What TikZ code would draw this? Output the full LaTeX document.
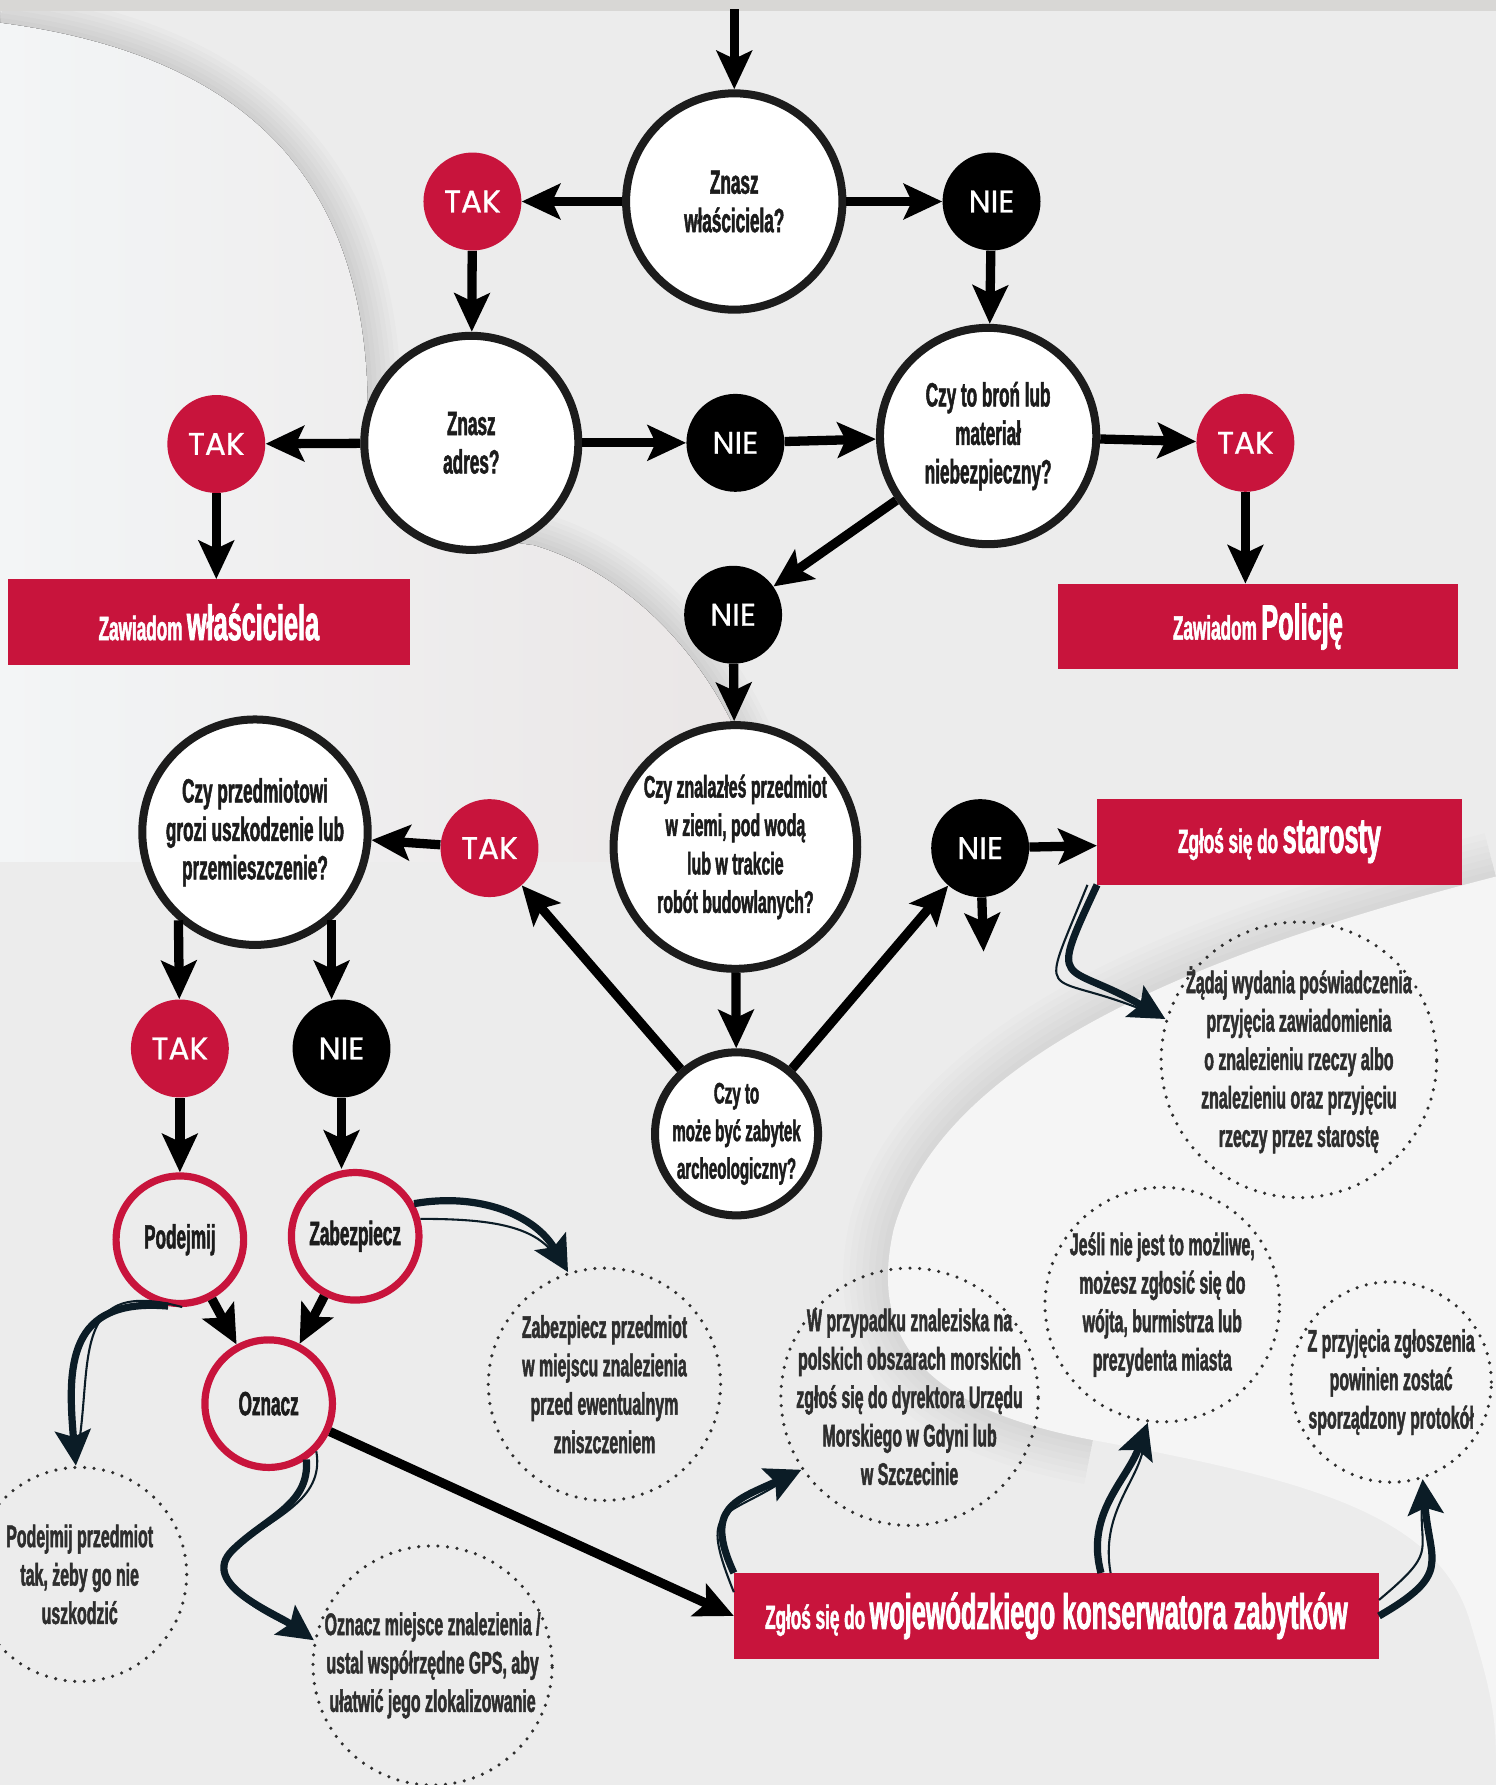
\documentclass[tikz,border=0pt]{standalone}
\usepackage{fontspec}
\usepackage{tikz}
\usetikzlibrary{arrows.meta,calc,positioning,shapes}
\setmainfont{Liberation Sans}
\newfontfamily\condfont[FakeStretch=0.51, FakeBold=1.5]{Liberation Sans}
\newfontfamily\roundfont[FakeBold=0.8]{Poppins}
\definecolor{crimson}{HTML}{C8143C}
\definecolor{ink}{HTML}{1C1C1C}
\definecolor{navy}{HTML}{0B1C26}
\definecolor{notegray}{HTML}{2E2E2E}
\definecolor{bgmain}{HTML}{ECECEC}
\definecolor{bgtop}{HTML}{D8D7D5}
\definecolor{paper}{HTML}{F3F5F6}
\definecolor{blush}{HTML}{E9E5E5}
\definecolor{swish}{HTML}{F5F5F5}
\newcommand{\qsize}{\condfont\bfseries\fontsize{21}{24}\selectfont}
\newcommand{\nsize}{\condfont\bfseries\fontsize{19.5}{24}\selectfont}
\newcommand{\bsmall}{\condfont\bfseries\fontsize{21}{22}\selectfont}
\newcommand{\bbig}{\condfont\bfseries\fontsize{31}{32}\selectfont}
\tikzset{%
	question/.style  = {circle, draw=ink, line width=5pt, fill=white, align=center, inner sep=-10pt, font=\qsize, text=ink},
	takdot/.style    = {circle, fill=crimson, minimum size=2.15cm, inner sep=0pt, text=white, font=\roundfont\fontsize{19.5}{20}\selectfont},
	niedot/.style    = {takdot, fill=black},
	action/.style    = {circle, draw=crimson, line width=4.5pt, minimum size=2.8cm, inner sep=0pt, font=\qsize, text=ink},
	note/.style      = {circle, draw=notegray, line width=2.2pt, line cap=round, dash pattern=on 0pt off 6pt, align=center, inner sep=-30pt, font=\nsize, text=notegray},
	banner/.style    = {rectangle, fill=crimson, minimum height=1.875cm, inner sep=0pt, text=white},
	arrow/.style     = {line width=5.8pt, -{Stealth[length=24pt,width=22pt,inset=5pt]}},
	swoosh/.style    = {draw=navy, line width=4.5pt, -{Stealth[length=22pt,width=22pt,inset=4pt]}},
	thinswoosh/.style= {draw=navy, line width=1.3pt, shorten >=16pt},
}
\begin{document}
\begin{tikzpicture}[x=0.025cm, y=-0.025cm]
	\useasboundingbox (0,0) rectangle (1314,1568);
	% background
	\fill[bgmain] (0,0) rectangle (1314,1568);
	\foreach \w in {6,12,...,42}
		\draw[line width=\w pt, black, opacity=0.014] (0,20) .. controls (230,50) and (320,170) .. (323,353) .. controls (330,450) and (400,470) .. (469,479) .. controls (540,500) and (610,560) .. (650,650) .. controls (670,690) and (690,720) .. (700,757);
	\fill[left color=paper, right color=blush] (0,10) -- (0,20) .. controls (230,50) and (320,170) .. (323,353) .. controls (330,450) and (400,470) .. (469,479) .. controls (540,500) and (610,560) .. (650,650) .. controls (670,690) and (690,720) .. (700,757) -- (0,757) -- cycle;
	\fill[bgtop] (0,0) rectangle (1314,10);
	\foreach \w in {8,16,...,56}
		\draw[line width=\w pt, black, opacity=0.01] (1314,770) .. controls (1080,830) and (830,920) .. (785,1080) .. controls (760,1190) and (830,1240) .. (960,1265);
	\fill[swish] (1314,770) .. controls (1080,830) and (830,920) .. (785,1080) .. controls (760,1190) and (830,1240) .. (960,1265) .. controls (1150,1300) and (1260,1330) .. (1290,1420) .. controls (1305,1470) and (1314,1500) .. (1314,1540) -- cycle;

	% questions
	\node[question, minimum size=4.75cm] (q1) at (645,177) {Znasz\\właściciela?};
	\node[question, minimum size=4.7cm]  (q2) at (414,389) {Znasz\\adres?};
	\node[question, minimum size=4.75cm] (q3) at (868,383) {Czy to broń lub\\materiał\\niebezpieczny?};
	\node[question, minimum size=5.35cm, font=\nsize] (q4) at (646,744) {Czy znalazłeś przedmiot\\w ziemi, pod wodą\\lub w trakcie\\robót budowlanych?};
	\node[question, minimum size=3.58cm, font=\condfont\bfseries\fontsize{18.5}{23.5}\selectfont] (q5) at (647,996) {Czy to\\może być zabytek\\archeologiczny?};
	\node[question, minimum size=4.95cm] (q6) at (224,731) {Czy przedmiotowi\\grozi uszkodzenie lub\\przemieszczenie?};

	% answers
	\node[takdot] (tak1) at (415,177) {TAK};
	\node[niedot] (nie1) at (871,177) {NIE};
	\node[takdot] (tak2) at (190,390) {TAK};
	\node[niedot] (nie2) at (646,389) {NIE};
	\node[takdot] (tak3) at (1094,389) {TAK};
	\node[niedot] (nie3) at (644,540) {NIE};
	\node[takdot] (tak4) at (430,745) {TAK};
	\node[niedot] (nie4) at (861,745) {NIE};
	\node[takdot] (tak5) at (158,921) {TAK};
	\node[niedot] (nie5) at (300,921) {NIE};

	% banners
	\node[banner, minimum width=8.825cm] (owner)    at (183.5,546.5) {{\bsmall Zawiadom} {\bbig właściciela}};
	\node[banner, minimum width=8.8cm]   (police)   at (1105,550.5)  {{\bsmall Zawiadom} {\bbig Policję}};
	\node[banner, minimum width=8cm]     (starosta) at (1124,739.5)  {{\bsmall Zgłoś się do} {\bbig starosty}};
	\node[banner, minimum width=14.15cm] (woj)      at (928,1419.5)  {{\bsmall Zgłoś się do} {\bbig wojewódzkiego konserwatora zabytków}};

	% actions
	\node[action] (pod) at (158,1089) {Podejmij};
	\node[action] (zab) at (312,1086) {Zabezpiecz};
	\node[action] (ozn) at (236,1233) {Oznacz};

	% notes
	\node[note, minimum size=5.1cm]  (zabnote)   at (531,1216)  {Zabezpiecz przedmiot\\w miejscu znalezienia\\przed ewentualnym\\zniszczeniem};
	\node[note, minimum size=4.7cm]  (podnote)   at (70,1383)   {Podejmij przedmiot\\tak, żeby go nie\\uszkodzić};
	\node[note, minimum size=5.25cm] (oznnote)   at (380,1463)  {Oznacz miejsce znalezienia /\\ustal współrzędne GPS, aby\\ułatwić jego zlokalizowanie};
	\node[note, minimum size=6.05cm] (staronote) at (1141,931)  {Żądaj wydania poświadczenia\\przyjęcia zawiadomienia\\o znalezieniu rzeczy albo\\znalezieniu oraz przyjęciu\\rzeczy przez starostę};
	\node[note, minimum size=5.65cm] (morsnote)  at (799,1227)  {W przypadku znaleziska na\\polskich obszarach morskich\\zgłoś się do dyrektora Urzędu\\Morskiego w Gdyni lub\\w Szczecinie};
	\node[note, minimum size=5.15cm] (wojtnote)  at (1021,1146) {Jeśli nie jest to możliwe,\\możesz zgłosić się do\\wójta, burmistrza lub\\prezydenta miasta};
	\node[note, minimum size=4.4cm]  (protnote)  at (1222,1214) {Z przyjęcia zgłoszenia\\powinien zostać\\sporządzony protokół};

	% arrows
	\coordinate (entry) at (645,8);
	\coordinate (drop) at (864,836);
	\draw[arrow] (entry) -- (q1);
	\draw[arrow] (q1) -- (tak1);
	\draw[arrow] (q1) -- (nie1);
	\draw[arrow] (tak1) -- (q2);
	\draw[arrow] (nie1) -- (q3);
	\draw[arrow] (q2) -- (tak2);
	\draw[arrow] (q2) -- (nie2);
	\draw[arrow] (nie2) -- (q3);
	\draw[arrow] (q3) -- (tak3);
	\draw[arrow] (tak2) -- (tak2 |- owner.north);
	\draw[arrow] (tak3) -- (tak3 |- police.north);
	\draw[arrow] (q3) -- (nie3);
	\draw[arrow] (nie3) -- (q4);
	\draw[arrow] (q4) -- (q5);
	\draw[arrow] (q5) -- (tak4);
	\draw[arrow] (q5) -- (nie4);
	\draw[arrow] (tak4) -- (q6);
	\draw[arrow] (nie4) -- (starosta);
	\draw[arrow] (nie4) -- (drop);
	\draw[arrow] (q6.229) -- (tak5);
	\draw[arrow] (q6.311) -- (q6.311 |- nie5.north);
	\draw[arrow] (tak5) -- (pod);
	\draw[arrow] (nie5) -- (nie5 |- zab.north);
	\draw[arrow] (pod) -- (ozn);
	\draw[arrow] (zab) -- (ozn);
	\draw[arrow] (ozn) -- (woj.west);

	% swooshes
	\coordinate (oznbend) at (204,1362);
	\draw[swoosh] (zab.29) to[out=10,in=120] (zabnote.108);
	\draw[thinswoosh] (zab.15) to[out=0,in=128] (zabnote.108);
	\draw[swoosh] (pod.-100) to[out=175,in=95,looseness=1.4] (podnote.92);
	\draw[thinswoosh] (pod.-88) to[out=165,in=82,looseness=1.5] (podnote.92);
	\draw[swoosh] (ozn.-56) to[out=-85,in=45] (oznbend) to[out=-135,in=145] (oznnote.168);
	\draw[thinswoosh] (ozn.-45) to[out=-80,in=40] (oznbend) to[out=-125,in=150] (oznnote.168);
	\draw[swoosh] (starosta.south west) to[out=-115,in=150,looseness=2] (staronote.163);
	\draw[thinswoosh] ([xshift=-6pt]starosta.south west) to[out=-112,in=158,looseness=2.2] (staronote.163);
	\draw[swoosh] (woj.north west) to[out=115,in=205,looseness=1.5] (morsnote.214);
	\draw[thinswoosh] ([yshift=-12pt]woj.north west) to[out=112,in=212,looseness=1.7] (morsnote.214);
	\draw[swoosh] (woj.44) to[out=105,in=-110] (wojtnote.263);
	\draw[thinswoosh] ([xshift=6pt]woj.44) to[out=100,in=-100] (wojtnote.263);
	\draw[swoosh] (woj.east) to[out=30,in=-85,looseness=1.5] (protnote.-72);
	\draw[thinswoosh] ([yshift=10pt]woj.east) to[out=40,in=-92,looseness=1.5] (protnote.-72);
\end{tikzpicture}
\end{document}
